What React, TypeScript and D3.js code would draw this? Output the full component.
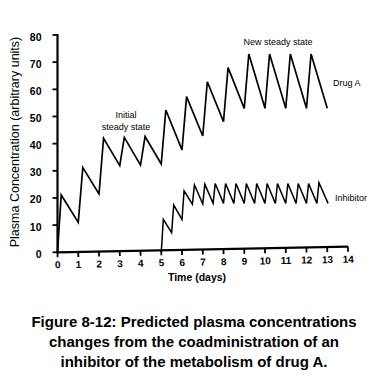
import React from "react";
import * as d3 from "d3";

// Drug A: dosed daily; trough just before each dose, peak shortly after
const drugDoseDays = [0, 1, 2, 3, 4, 5, 6, 7, 8, 9, 10, 11, 12];
const drugTroughs = [0, 11.0, 21.5, 31.9, 32.1, 32.5, 37.7, 42.8, 48.1, 53.0, 53.0, 53.0, 53.0];
const drugPeaks = [21.1, 31.2, 42.0, 42.3, 42.6, 52.4, 57.3, 62.8, 68.0, 73.0, 73.0, 73.0, 73.0];
const drugEnd = { day: 13, value: 53.0 };

// Inhibitor: dosed every half day from day 5
const inhDoseDays = [5, 5.5, 6, 6.5, 7, 7.5, 8, 8.5, 9, 9.5, 10, 10.5, 11, 11.5, 12, 12.5];
const inhTroughs = [0, 7.2, 12.1, 17.7, 17.8, 18.0, 18.0, 18.0, 18.0, 18.0, 18.0, 18.0, 18.0, 18.0, 18.0, 18.0];
const inhPeaks = [12.1, 17.4, 22.6, 24.8, 25.1, 25.3, 25.3, 25.3, 25.3, 25.3, 25.3, 25.3, 25.3, 25.3, 25.3, 25.6];
const inhEnd = { day: 13.04, value: 18.0 };

const xTicks = [0, 1, 2, 3, 4, 5, 6, 7, 8, 9, 10, 11, 12, 13, 14];
const yTicks = [0, 10, 20, 30, 40, 50, 60, 70, 80];

const captionLines = [
  "Figure 8-12: Predicted plasma concentrations",
  "changes from the coadministration of an",
  "inhibitor of the metabolism of drug A.",
];

export default function App() {
  const x = d3.scaleLinear().domain([0, 14]).range([57.5, 348]);
  const y = d3.scaleLinear().domain([0, 80]).range([252.3, 35]);

  const drugPts: [number, number][] = [];
  drugDoseDays.forEach((d, i) => {
    drugPts.push([d, drugTroughs[i]]);
    drugPts.push([d + (i === 0 ? 0.18 : 0.22), drugPeaks[i]]);
  });
  drugPts.push([drugEnd.day, drugEnd.value]);

  const inhPts: [number, number][] = [];
  inhDoseDays.forEach((d, i) => {
    inhPts.push([d, inhTroughs[i]]);
    inhPts.push([d + 0.1, inhPeaks[i]]);
  });
  inhPts.push([inhEnd.day, inhEnd.value]);

  const line = d3
    .line<[number, number]>()
    .x((d) => x(d[0]))
    .y((d) => y(d[1]));

  const x0 = x(0);
  const y0 = y(0);
  const tickFont = "'Liberation Sans', Arial, sans-serif";

  return (
    <svg
      width={380}
      height={383}
      style={{ position: "absolute", left: 0, top: 0, background: "#fff" }}
    >
      <rect width={380} height={383} fill="#fff" />
      {/* Y axis */}
      <line x1={x0} x2={x0} y1={y(80) - 1} y2={y0} stroke="#000" strokeWidth={2.2} />
      {yTicks.map((t) => (
        <g key={t}>
          <line x1={x0 - 5} x2={x0} y1={y(t)} y2={y(t)} stroke="#000" strokeWidth={1.8} />
          <text
            x={41.5}
            y={y(t) + 5.5}
            textAnchor="end"
            fontFamily={tickFont}
            fontWeight="bold"
            fontSize={10.5}
          >
            {t}
          </text>
        </g>
      ))}
      {/* X axis (slightly skewed as in the scan) */}
      <g transform={`rotate(-1.1, ${x0}, ${y0})`}>
        <line x1={x0} x2={x(14)} y1={y0} y2={y0} stroke="#000" strokeWidth={2.2} />
        {xTicks.map((t) => (
          <g key={t}>
            <line x1={x(t)} x2={x(t)} y1={y0} y2={y0 + 5} stroke="#000" strokeWidth={1.8} />
            <text
              x={x(t)}
              y={y0 + 16}
              textAnchor="middle"
              fontFamily={tickFont}
              fontWeight="bold"
              fontSize={10}
            >
              {t}
            </text>
          </g>
        ))}
      </g>
      <text
        x={197}
        y={280.5}
        textAnchor="middle"
        fontFamily={tickFont}
        fontWeight="bold"
        fontSize={10.5}
      >
        Time (days)
      </text>
      <text
        transform={`translate(19, 142) rotate(-90)`}
        textAnchor="middle"
        fontFamily="'Liberation Sans', Arial, sans-serif"
        fontSize={12.5}
      >
        Plasma Concentration (arbitrary units)
      </text>

      {/* Series */}
      <path d={line(drugPts) || ""} fill="none" stroke="#000" strokeWidth={1.7} strokeLinejoin="miter" />
      <path d={line(inhPts) || ""} fill="none" stroke="#000" strokeWidth={1.5} />

      {/* Annotations */}
      <g fontFamily={tickFont} fontSize={9} fill="#000">
        <text x={126} y={118} textAnchor="middle">Initial</text>
        <text x={126} y={130} textAnchor="middle">steady state</text>
        <text x={278} y={45} textAnchor="middle">New steady state</text>
        <text x={333} y={86}>Drug A</text>
        <text x={335} y={201}>Inhibitor</text>
      </g>

      {/* Caption */}
      <g fontFamily="'Liberation Sans', Arial, sans-serif" fontWeight="bold" fontSize={15} textAnchor="middle">
        {captionLines.map((l, i) => (
          <text key={i} x={194} y={327 + i * 20}>
            {l}
          </text>
        ))}
      </g>
    </svg>
  );
}
